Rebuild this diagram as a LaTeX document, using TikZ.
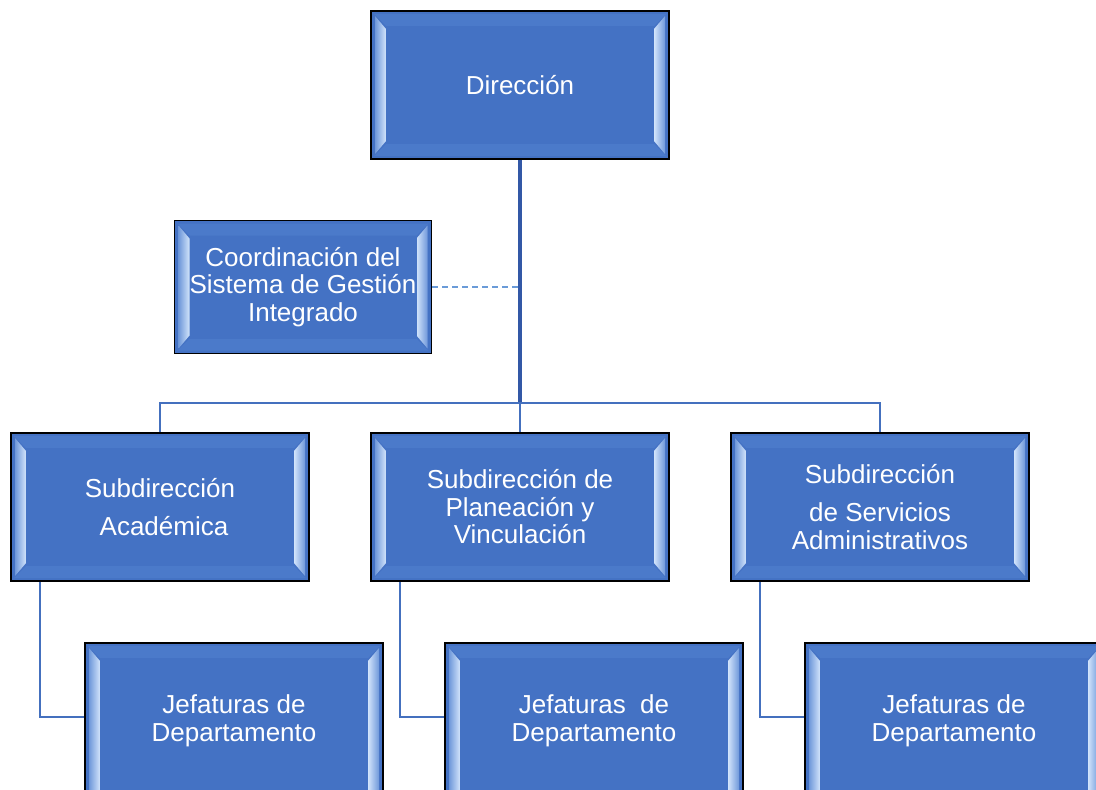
\documentclass[tikz,border=0pt]{standalone}
\usepackage{fontspec}
\setmainfont{Liberation Sans}
\definecolor{boxblue}{HTML}{4472C4}
\definecolor{bevlight}{HTML}{D2E4FB}
\definecolor{bevmid}{HTML}{6F98DA}
\definecolor{bevtop}{HTML}{4B7ACA}
\definecolor{trunkblue}{HTML}{3358A6}
\definecolor{connblue}{HTML}{4470BE}
\definecolor{dashblue}{HTML}{6A9BD8}
\tikzset{
  orgbox/.style={rectangle, draw=black, line width=1.6pt, fill=boxblue,
    minimum width=298pt, minimum height=148pt, inner sep=0pt,
    text=white, align=center, font=\fontsize{26}{27.5}\selectfont,
    path picture={
      \fill[bevtop] ([shift={(3pt,-3pt)}]path picture bounding box.north west)
        -- ([shift={(-3pt,-3pt)}]path picture bounding box.north east)
        -- ([shift={(-15pt,-15pt)}]path picture bounding box.north east)
        -- ([shift={(15pt,-15pt)}]path picture bounding box.north west) -- cycle;
      \fill[bevtop] ([shift={(3pt,3pt)}]path picture bounding box.south west)
        -- ([shift={(-3pt,3pt)}]path picture bounding box.south east)
        -- ([shift={(-15pt,15pt)}]path picture bounding box.south east)
        -- ([shift={(15pt,15pt)}]path picture bounding box.south west) -- cycle;
      \shade[left color=bevmid, right color=bevlight]
        ([shift={(4pt,-5pt)}]path picture bounding box.north west)
        -- ([shift={(15pt,-18pt)}]path picture bounding box.north west)
        -- ([shift={(15pt,18pt)}]path picture bounding box.south west)
        -- ([shift={(4pt,5pt)}]path picture bounding box.south west) -- cycle;
      \shade[left color=bevlight, right color=bevmid]
        ([shift={(-4pt,-5pt)}]path picture bounding box.north east)
        -- ([shift={(-15pt,-18pt)}]path picture bounding box.north east)
        -- ([shift={(-15pt,18pt)}]path picture bounding box.south east)
        -- ([shift={(-4pt,5pt)}]path picture bounding box.south east) -- cycle;
      \fill[boxblue] ([shift={(15pt,-15pt)}]path picture bounding box.north west)
        rectangle ([shift={(-15pt,15pt)}]path picture bounding box.south east);
    }},
  trunk/.style={draw=trunkblue, line width=3.4pt},
  conn/.style={draw=connblue, line width=2.2pt},
  dashconn/.style={draw=dashblue, line width=1.4pt, dash pattern=on 6pt off 4pt}
}
\newcommand{\twolines}[2]{\raisebox{51pt}{\begin{tabular}{@{}c@{}}#1\\#2\end{tabular}}}
\begin{document}
\begin{tikzpicture}[x=1pt,y=-1pt]
\useasboundingbox (0,0) rectangle (1096,790);
\clip (0,0) rectangle (1096,790);
\fill[white] (0,0) rectangle (1096,790);

\coordinate (bus) at (520,403);

\node[orgbox] (dir) at (520,85) {Direcci\'on};
\node[orgbox, minimum width=257pt, minimum height=133pt] (coord) at (303,287) {Coordinaci\'on del\\Sistema de Gesti\'on\\Integrado};
\node[orgbox] (sa) at (160,507) {Subdirecci\'on\\[10.5pt]\hspace*{8pt}Acad\'emica};
\node[orgbox] (sp) at (520,507) {Subdirecci\'on de\\Planeaci\'on y\\Vinculaci\'on};
\node[orgbox] (ss) at (880,507) {Subdirecci\'on\\[10.5pt]de Servicios\\Administrativos};
\node[orgbox, minimum height=188pt] (j1) at (234,737) {\twolines{Jefaturas de}{Departamento}};
\node[orgbox, minimum height=188pt] (j2) at (594,737) {\twolines{Jefaturas\ \ de}{Departamento}};
\node[orgbox, minimum height=188pt] (j3) at (954,737) {\twolines{Jefaturas de}{Departamento}};

\draw[trunk] (dir.south) -- (bus);
\draw[conn] (sa.north) |- (bus);
\draw[conn] (bus) -| (ss.north);
\draw[conn] (bus) -- (sp.north);
\draw[dashconn] (coord.east) -- (coord.east -| dir.south);
\draw[conn] ([xshift=30pt]sa.south west) |- (j1.west |- 0,717);
\draw[conn] ([xshift=30pt]sp.south west) |- (j2.west |- 0,717);
\draw[conn] ([xshift=30pt]ss.south west) |- (j3.west |- 0,717);
\end{tikzpicture}
\end{document}
